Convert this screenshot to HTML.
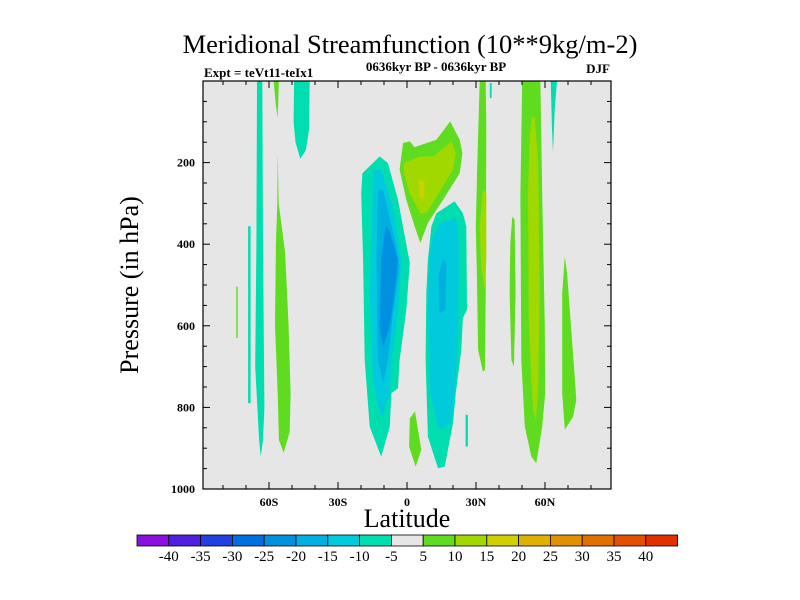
<!DOCTYPE html>
<html><head><meta charset="utf-8"><style>
body{margin:0;background:#fff}
svg{display:block;font-family:"Liberation Serif",serif}
</style></head><body>
<svg id="c" width="800" height="600">
<text x="410" y="53" text-anchor="middle" font-size="26.5">Meridional Streamfunction (10**9kg/m-2)</text>
<text x="204" y="77" font-size="13" font-weight="bold">Expt = teVt11-teIx1</text>
<text x="436" y="71" text-anchor="middle" font-size="13" font-weight="bold">0636kyr BP - 0636kyr BP</text>
<text x="610" y="73" text-anchor="end" font-size="13" font-weight="bold">DJF</text>
<rect x="203" y="81" width="408" height="408" fill="#e6e6e6"/>
<g id="cont"></g>
<g id="axes"></g>
<text transform="translate(138,285) rotate(-90)" text-anchor="middle" font-size="26">Pressure (in hPa)</text>
<text x="407" y="527" text-anchor="middle" font-size="26">Latitude</text>
<g id="cbar"></g>
</svg>
<script>
const xTicks=[-60,-30,0,30,60];
const xTickLabels=["60S","30S","0","30N","60N"];
const yTicks=[200,400,600,800,1000];
const levelColors=["#8a10e0","#5020e0","#2040e0","#0070e0","#0090e0","#00b0e0","#00cadb","#00deb0","#e6e6e6","#60dc20","#a0d800","#d0d000","#e0b000","#e09000","#e07000","#e05000","#e03000"];
const levelLabels=["-40","-35","-30","-25","-20","-15","-10","-5","5","10","15","20","25","30","35","40"];
const shapeLevels=[7,9,9,7,7,9,7,6,5,4,7,6,5,9,10,11,9,7,7,9,10,9,9,10,7,9];
const shapeCoords=[
[[-65.2,0],[-62.9,0],[-62.6,400],[-62,800],[-62.6,880],[-63.6,921],[-64.3,880],[-66,700],[-65.5,400]],
[[-58,0],[-55.7,0],[-56.2,90],[-57,60]],
[[-56.2,177],[-55.8,300],[-53,420],[-51.5,600],[-50.6,765],[-51,860],[-53.6,911],[-55.7,880],[-56.2,765],[-57.4,600],[-57,400],[-56.4,300]],
[[-49.1,0],[-42.3,0],[-42.6,120],[-44,170],[-46.4,191],[-48.5,150],[-49.3,100]],
[[-69.1,356],[-68,356],[-68,790],[-69.1,790]],
[[-74.2,504],[-73.6,504],[-73.6,630],[-74.2,630]],
[[-19.4,226],[-11.9,185],[-8.3,201],[-3.9,291],[1.2,446],[-0.3,561],[-3.2,684],[-3.9,753],[-6.8,765],[-7.5,847],[-11.2,921],[-16.2,847],[-18.4,684],[-19.1,438],[-19.9,275]],
[[-14.8,217],[-11.2,217],[-6.1,307],[-2.5,438],[-3.9,569],[-6.8,684],[-7.5,765],[-11.2,827],[-14.8,740],[-16.2,520],[-15.1,316]],
[[-12.6,267],[-10.4,267],[-4.6,406],[-3.2,455],[-6.1,569],[-8.3,684],[-10.4,741],[-12.6,684],[-13.3,438]],
[[-9.3,356],[-7.8,365],[-3.9,438],[-5.4,520],[-7.5,601],[-10.4,651],[-11.9,601],[-11.2,438]],
[[12.8,324],[20.7,295],[24.3,324],[25.8,356],[26.1,561],[24.3,581],[23.6,659],[21.2,765],[20,839],[16.4,945],[13.5,949],[9.1,872],[8.1,684],[8.4,520],[9.1,438],[10.6,356]],
[[14.2,348],[21.4,336],[22.6,406],[22.2,643],[20.7,765],[19.3,839],[13.9,855],[9.9,765],[9.1,561],[9.6,438],[11.3,381]],
[[15.7,435],[17.1,446],[16.7,561],[14.2,569],[13.6,479]],
[[-1.7,152],[1.2,148],[3.3,162],[12.8,144],[18.8,99],[22.9,144],[24.1,177],[22.9,226],[15.7,291],[9.1,348],[5.8,397],[3.3,356],[-0.3,291],[-3.2,217]],
[[-1.4,201],[5.5,185],[11.3,185],[19.3,148],[21.2,177],[20,217],[15.7,258],[8.4,324],[5.8,324],[1.2,275],[-1.4,226]],
[[5.2,242],[7.7,250],[7,291],[5.5,283]],
[[1.2,827],[3.5,810],[6.2,904],[3.8,945],[0.9,896]],
[[25.5,818],[26.5,818],[26.5,896],[25.5,896]],
[[36,5],[36.8,5],[36.8,42],[36,42]],
[[31.6,0],[34.2,0],[34.5,111],[34.2,520],[33.9,708],[33,712],[30.9,659],[30.4,479],[29.9,356],[30.6,193]],
[[33,267],[34.5,275],[34.5,438],[33.8,512],[32.3,455],[31.6,356]],
[[45.8,332],[46.8,340],[47.2,520],[46.5,700],[45.4,684],[44.6,520],[44.9,397]],
[[50.1,0],[58,0],[58.8,275],[59.9,601],[60.1,765],[58.8,847],[56.2,937],[54.1,921],[51.2,847],[49.7,684],[49.3,275]],
[[54.1,91],[55.5,87],[57,193],[57.7,520],[57,765],[55.9,831],[54.8,806],[53,602],[52.6,275],[53.3,152]],
[[62.5,0],[65.2,0],[64.2,70],[63.5,177],[63,111]],
[[68.6,430],[69.6,471],[72.9,724],[73.6,782],[72.2,823],[68.6,855],[67.5,765],[67.5,520]]
];
const NS="http://www.w3.org/2000/svg";
const X0=203,X1=611,Y0=81,Y1=489,LATMIN=-88.7,LATMAX=88.7;
function xs(l){return X0+(l-LATMIN)/(LATMAX-LATMIN)*(X1-X0);}
function ys(p){return Y0+p/1000*(Y1-Y0);}
function mk(t,a,par){const e=document.createElementNS(NS,t);for(const k in a)e.setAttribute(k,a[k]);par.appendChild(e);return e;}
const cont=document.getElementById('cont');
shapeCoords.forEach((pts,i)=>{
 const p=mk('polygon',{points:pts.map(q=>xs(q[0]).toFixed(1)+','+ys(q[1]).toFixed(1)).join(' '),fill:levelColors[shapeLevels[i]]},cont);
 
 
});
const ax=document.getElementById('axes');
const fr=mk('rect',{x:X0,y:Y0,width:X1-X0,height:Y1-Y0,fill:'none',stroke:'#000','stroke-width':1.2},ax);


for(let l=-80;l<=80;l+=10){const maj=l%30===0,len=maj?7:4;
 mk('line',{x1:xs(l),x2:xs(l),y1:Y1,y2:Y1-len,stroke:'#000'},ax);
 mk('line',{x1:xs(l),x2:xs(l),y1:Y0,y2:Y0+len,stroke:'#000'},ax);}
for(let p=50;p<1000;p+=50){const maj=p%200===0,len=maj?7:4;
 mk('line',{x1:X0,x2:X0+len,y1:ys(p),y2:ys(p),stroke:'#000'},ax);
 mk('line',{x1:X1,x2:X1-len,y1:ys(p),y2:ys(p),stroke:'#000'},ax);}
xTicks.forEach((l,i)=>{const t=mk('text',{x:xs(l),y:506,'text-anchor':'middle','font-size':12,'font-weight':'bold'},ax);t.textContent=xTickLabels[i];
 
 });
yTicks.forEach(p=>{const t=mk('text',{x:195,y:ys(p)+4,'text-anchor':'end','font-size':12,'font-weight':'bold'},ax);t.textContent=p;
 
 });
const cb=document.getElementById('cbar');
const bw=31.8,bx=137,by=535,bh=11;
levelColors.forEach((c,i)=>{const r=mk('rect',{x:bx+i*bw,y:by,width:bw,height:bh,fill:c,stroke:'#000','stroke-width':0.8},cb);
 
 });
levelLabels.forEach((s,i)=>{const t=mk('text',{x:bx+(i+1)*bw,y:561,'text-anchor':'middle','font-size':15},cb);t.textContent=s;
 
 });
</script>
</body></html>
